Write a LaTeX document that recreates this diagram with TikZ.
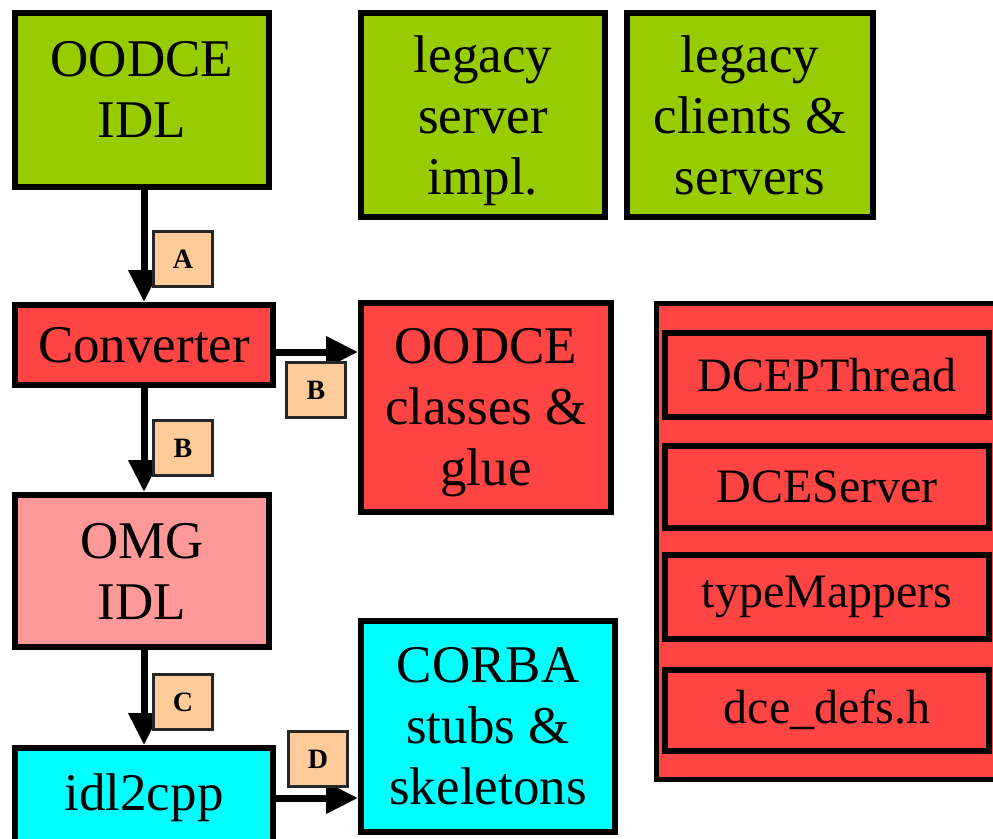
\documentclass[tikz,border=0pt]{standalone}
\usepackage{fontspec}
\setmainfont{Liberation Serif}
\usetikzlibrary{arrows.meta}
\definecolor{leaf}{RGB}{153,204,0}
\definecolor{tomato}{RGB}{255,68,68}
\definecolor{rose}{RGB}{255,153,153}
\definecolor{aqua}{RGB}{0,255,255}
\definecolor{peach}{RGB}{255,204,153}
\begin{document}
\begin{tikzpicture}[x=1pt, y=-1pt,
    block/.style={rectangle, draw=black, line width=6pt, inner sep=0pt, align=center,
                  font=\fontsize{53}{61}\selectfont, fill=#1},
    part/.style={block=tomato, minimum width=324pt, font=\fontsize{48}{56}\selectfont},
    tag/.style={rectangle, draw=black!85, line width=3pt, fill=peach, inner sep=0pt,
                minimum width=59pt, minimum height=55pt, font=\fontsize{28}{32}\selectfont\bfseries},
    arrow/.style={-{Triangle[length=32pt,width=30pt]}, line width=7pt}
]
\useasboundingbox (0,0) rectangle (993,838);

% Top row
\node[block=leaf, minimum width=254pt, minimum height=174pt, text depth=22pt] (oodceidl) at (142,100) {OODCE\\IDL};
\node[block=leaf, minimum width=244pt, minimum height=204pt, text depth=0pt] (legacysrv) at (483,115) {legacy\\server\\impl.};
\node[block=leaf, minimum width=246pt, minimum height=204pt] (legacycli) at (750,115) {legacy\\clients \&\\servers};

% Generator chain
\node[block=tomato, minimum width=258pt, minimum height=80pt] (converter) at (144,345) {Converter};
\node[block=tomato, minimum width=250pt, minimum height=209pt, text depth=0pt] (oodceglue) at (486,407) {OODCE\\classes \&\\glue};
\node[block=rose, minimum width=254pt, minimum height=152pt] (omgidl) at (142,571) {OMG\\IDL};
\node[block=aqua, minimum width=258pt, minimum height=100pt] (idlcpp) at (144,798) {idl2cpp};
\node[block=aqua, minimum width=254pt, minimum height=211pt] (corba) at (488,726) {CORBA\\stubs \&\\skeletons};

% Runtime library
\node[block=tomato, line width=5pt, minimum width=360pt, minimum height=476pt] (dcelib) at (836,541) {};
\node[part, minimum height=84pt] (dcepthread) at (827,375) {DCEPThread};
\node[part, minimum height=82pt] (dceserver) at (827,487) {DCEServer};
\node[part, minimum height=84pt] (typemappers) at (827,597) {typeMappers};
\node[part, minimum height=81pt] (dcedefs) at (827,710) {dce\_defs.h};

% Arrows
\draw[arrow] (oodceidl.south -| converter) -- (converter);
\draw[arrow] ([yshift=-7pt]converter.east) -- ([yshift=-7pt]converter.east -| oodceglue.west);
\draw[arrow] (converter) -- (omgidl.north -| converter);
\draw[arrow] (omgidl.south -| converter) -- (idlcpp);
\draw[arrow] (idlcpp.east) -- (idlcpp.east -| corba.west);

% Step labels
\node[tag] (tagA) at (183,259) {A};
\node[tag] (tagBr) at (316,390) {B};
\node[tag] (tagBd) at (183,448) {B};
\node[tag] (tagC) at (183,702) {C};
\node[tag] (tagD) at (318,759) {D};

\end{tikzpicture}
\end{document}
